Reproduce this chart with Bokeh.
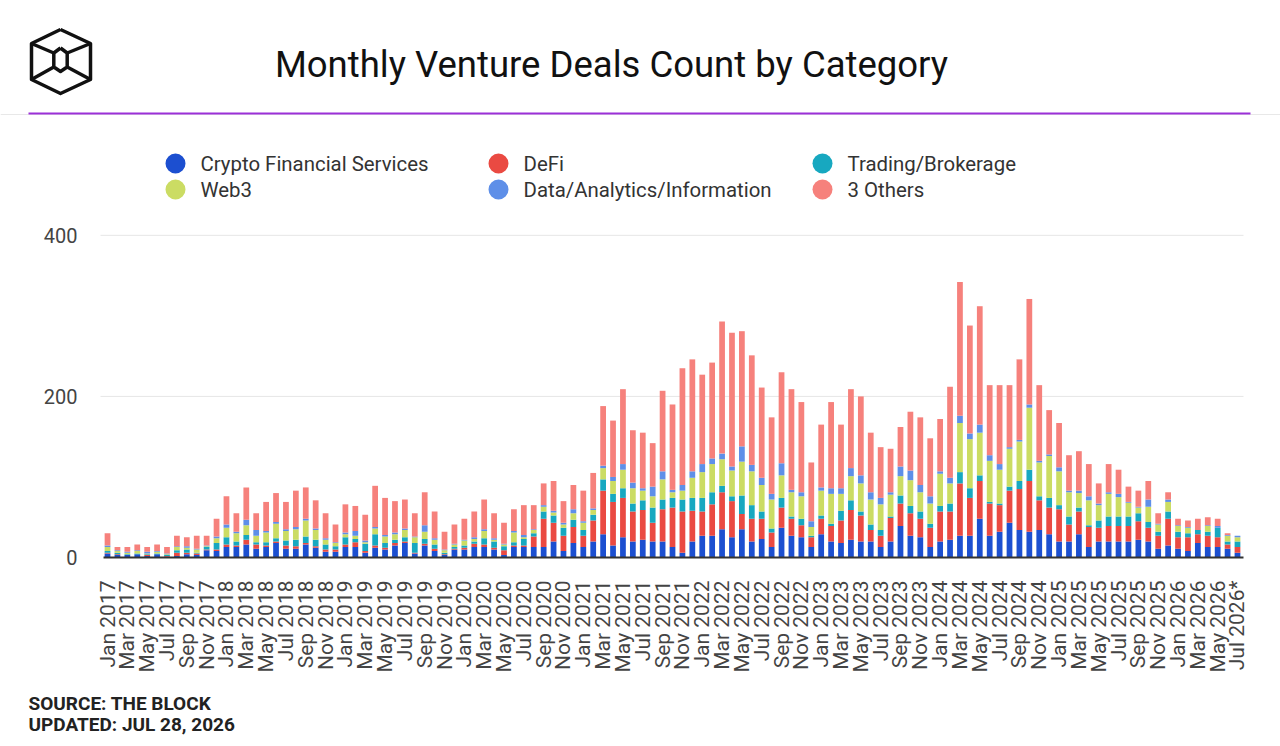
import math
from bokeh.plotting import figure
from bokeh.layouts import column
from bokeh.models import ColumnDataSource, Range1d, FixedTicker
from bokeh.core.properties import value
from bokeh.embed import file_html
from bokeh.resources import INLINE

MONTH_NAMES = ["Jan", "Feb", "Mar", "Apr", "May", "Jun",
               "Jul", "Aug", "Sep", "Oct", "Nov", "Dec"]
months = [f"{m} {y}" for y in range(2017, 2027) for m in MONTH_NAMES][:115]
months[-1] = months[-1] + "*"

series_names = ["Crypto Financial Services", "DeFi", "Trading/Brokerage",
                "Web3", "Data/Analytics/Information", "3 Others"]

crypto_fin = [5, 3, 3, 4, 2, 4, 1, 2, 4, 3,
              9, 8, 13, 13, 16, 11, 13, 18, 11, 11,
              16, 12, 7, 7, 13, 13, 6, 12, 10, 15,
              18, 5, 15, 8, 3, 10, 10, 13, 13, 10,
              3, 13, 13, 13, 13, 20, 8, 18, 13, 20,
              29, 15, 25, 20, 22, 20, 20, 13, 6, 20,
              27, 27, 35, 25, 35, 20, 23, 13, 37, 27,
              25, 13, 29, 20, 18, 22, 20, 20, 13, 20,
              39, 27, 25, 13, 20, 22, 27, 27, 48, 27,
              32, 43, 34, 32, 34, 29, 20, 20, 29, 13,
              20, 20, 20, 20, 22, 20, 11, 15, 11, 8,
              18, 13, 13, 11, 6]
defi = [1, 1, 0, 0, 1, 0, 1, 4, 2, 2,
        1, 2, 3, 2, 6, 5, 2, 2, 4, 3,
        2, 2, 3, 3, 3, 6, 2, 3, 2, 3,
        2, 1, 2, 3, 1, 1, 2, 4, 3, 2,
        6, 2, 2, 13, 35, 23, 19, 20, 14, 26,
        54, 54, 49, 37, 37, 23, 40, 49, 51, 38,
        30, 39, 46, 45, 19, 28, 25, 18, 25, 21,
        15, 12, 19, 19, 28, 37, 32, 14, 14, 29,
        28, 28, 23, 24, 37, 35, 65, 47, 47, 40,
        33, 40, 51, 63, 37, 33, 40, 21, 28, 25,
        17, 19, 19, 19, 23, 17, 16, 33, 14, 17,
        11, 14, 12, 5, 7]
trading = [2, 2, 1, 1, 1, 1, 1, 3, 4, 1,
           3, 8, 9, 5, 6, 3, 4, 4, 6, 8,
           8, 8, 6, 4, 9, 4, 9, 14, 6, 4,
           5, 12, 6, 5, 2, 2, 3, 3, 8, 8,
           5, 4, 8, 4, 9, 9, 10, 9, 7, 7,
           14, 10, 12, 10, 12, 19, 12, 12, 15, 16,
           17, 15, 8, 6, 23, 17, 9, 5, 12, 3,
           8, 2, 4, 3, 12, 12, 5, 7, 7, 2,
           10, 9, 9, 5, 7, 10, 14, 12, 7, 2,
           2, 5, 10, 14, 5, 12, 5, 10, 5, 2,
           9, 12, 12, 12, 10, 7, 5, 9, 7, 5,
           5, 5, 12, 4, 7]
web3 = [5, 2, 2, 3, 1, 2, 1, 4, 2, 4,
        1, 6, 12, 10, 12, 8, 12, 18, 12, 13,
        20, 12, 6, 4, 4, 4, 2, 7, 8, 7,
        9, 7, 9, 6, 3, 3, 6, 3, 9, 2,
        2, 12, 2, 4, 6, 4, 4, 8, 9, 6,
        14, 16, 23, 19, 12, 14, 25, 7, 11, 25,
        32, 35, 33, 32, 42, 42, 33, 36, 28, 30,
        28, 11, 31, 37, 21, 30, 35, 31, 32, 27,
        24, 32, 24, 25, 40, 25, 61, 61, 53, 51,
        42, 47, 49, 77, 42, 52, 42, 30, 18, 31,
        19, 28, 24, 17, 7, 19, 9, 12, 7, 7,
        0, 7, 0, 7, 5]
data_info = [2, 1, 1, 1, 2, 1, 1, 1, 2, 1,
             1, 2, 4, 2, 7, 7, 2, 2, 2, 3,
             2, 2, 2, 1, 2, 6, 2, 2, 2, 2,
             2, 1, 8, 2, 1, 1, 1, 2, 2, 2,
             1, 2, 3, 1, 2, 2, 2, 5, 2, 2,
             3, 5, 7, 7, 3, 12, 10, 3, 7, 8,
             10, 7, 7, 5, 19, 8, 9, 7, 15, 3,
             5, 7, 4, 7, 7, 10, 10, 9, 8, 3,
             12, 12, 9, 9, 3, 7, 9, 7, 10, 7,
             7, 2, 2, 4, 2, 2, 5, 2, 3, 5,
             2, 2, 4, 1, 1, 9, 1, 3, 1, 1,
             0, 1, 2, 1, 2]
others = [15, 4, 6, 7, 6, 8, 8, 13, 11, 16,
          12, 22, 35, 23, 40, 21, 36, 36, 34, 45,
          39, 35, 31, 22, 35, 31, 32, 51, 46, 39,
          36, 29, 41, 33, 22, 24, 26, 32, 37, 31,
          26, 27, 37, 30, 27, 37, 27, 30, 38, 44,
          74, 70, 93, 65, 69, 54, 100, 106, 145, 139,
          111, 119, 164, 166, 143, 136, 112, 95, 113, 125,
          112, 73, 78, 107, 79, 98, 98, 74, 63, 54,
          49, 73, 84, 72, 65, 113, 166, 134, 147, 87,
          98, 77, 100, 131, 94, 55, 55, 44, 49, 40,
          25, 35, 30, 19, 20, 23, 13, 9, 8, 8,
          14, 10, 9, 2, 0]

y_ticks = [0, 200, 400]
y_tick_labels = ["0", "200", "400"]

colors = ["#1c4fd0", "#ea4a42", "#17a8c0", "#cbdc63", "#5e8fe8", "#f6817c"]
FONT = "Roboto"

# ---------------- header (logo, title, legend) ----------------
hdr = figure(width=1280, height=222, x_range=Range1d(0, 1280), y_range=Range1d(222, 0),
             toolbar_location=None, output_backend="svg",
             x_axis_type=None, y_axis_type=None, min_border=0)
hdr.outline_line_color = None
hdr.xgrid.visible = False
hdr.ygrid.visible = False

logo_xs = [[60, 90, 90, 60, 31, 31, 60],
           [60, 66.7, 66.7, 60, 53.3, 53.3, 60],
           [31, 53.3], [90, 66.7], [31, 53.3], [90, 66.7]]
logo_ys = [[29, 43, 79, 93, 79, 43, 29],
           [47.5, 52.5, 66.5, 71, 66.5, 52.5, 47.5],
           [43, 52.5], [43, 52.5], [79, 66.5], [79, 66.5]]
hdr.multi_line(logo_xs, logo_ys, line_color="#111111", line_width=3.5, line_join="round")

hdr.text(x=[611], y=[64], text=["Monthly Venture Deals Count by Category"],
         text_align="center", text_baseline="middle", text_font=value(FONT),
         text_font_size=value("36.5px"), text_color="#111111")

hdr.line([0, 1280], [114, 114], line_color="#e8e8e8", line_width=1)
hdr.line([28, 1250], [113, 113], line_color="#9b30d8", line_width=2)

lx = [175, 498, 822, 175, 498, 822]
ly = [163, 163, 163, 189, 189, 189]
hdr.scatter(lx, ly, size=20, fill_color=colors, line_color=None)
hdr.text(x=[v + 25 for v in lx], y=ly, text=series_names, text_align="left",
         text_baseline="middle", text_font=value(FONT), text_font_size=value("20.4px"),
         text_color="#333333")

# ---------------- chart ----------------
n = len(months)
src = ColumnDataSource(dict(x=list(range(n)), cfs=crypto_fin, defi=defi,
                            trading=trading, web3=web3, data=data_info, others=others))

STEP = 9.91   # pixels per month (frame spans the full width)
PPU = 0.8054  # pixels per deal
p = figure(width=1280, height=470,
           x_range=Range1d(-107 / STEP, (n - 1) + 43 / STEP),
           y_range=Range1d(-13 / PPU, 335 / PPU),
           toolbar_location=None, output_backend="svg", y_axis_location=None,
           min_border_left=0, min_border_right=0, min_border_top=0, min_border_bottom=122)
p.outline_line_color = None
p.xgrid.visible = False
p.ygrid.visible = False

x_left = -7 / STEP
x_right = (n - 1) + 6 / STEP
p.segment(x0=[x_left] * 2, x1=[x_right] * 2, y0=y_ticks[1:], y1=y_ticks[1:],
          line_color="#e6e6e6", line_width=1)

p.vbar_stack(["cfs", "defi", "trading", "web3", "data", "others"], x="x", width=0.58,
             fill_color=colors, line_color=None, source=src)

p.segment(x0=[-4 / STEP], x1=[x_right], y0=[0], y1=[0], line_color="#333333", line_width=2)

p.text(x=[-30 / STEP] * 3, y=y_ticks, text=y_tick_labels, text_align="right",
       text_baseline="middle", text_font=value(FONT), text_font_size=value("20px"),
       text_color="#444444")

p.xaxis.ticker = FixedTicker(ticks=list(range(0, n, 2)))
p.xaxis.major_label_overrides = {i: months[i] for i in range(0, n, 2)}
p.xaxis.major_label_orientation = math.pi / 2
p.xaxis.major_tick_line_color = None
p.xaxis.minor_tick_line_color = None
p.xaxis.axis_line_color = None
p.xaxis.major_label_standoff = 4
p.xaxis.major_label_text_font = FONT
p.xaxis.major_label_text_font_size = "21px"
p.xaxis.major_label_text_color = "#444444"

# ---------------- footer ----------------
ftr = figure(width=1280, height=54, x_range=Range1d(0, 1280), y_range=Range1d(54, 0),
             toolbar_location=None, output_backend="svg",
             x_axis_type=None, y_axis_type=None, min_border=0)
ftr.outline_line_color = None
ftr.xgrid.visible = False
ftr.ygrid.visible = False
ftr.text(x=[28, 28], y=[11, 32], text=["SOURCE: THE BLOCK", "UPDATED: JUL 28, 2026"],
         text_align="left", text_baseline="middle", text_font=value(FONT),
         text_font_size=value("19px"), text_font_style=value("bold"), text_color="#222222")

layout = column(hdr, p, ftr)
open("out.html", "w").write(file_html(layout, INLINE))
